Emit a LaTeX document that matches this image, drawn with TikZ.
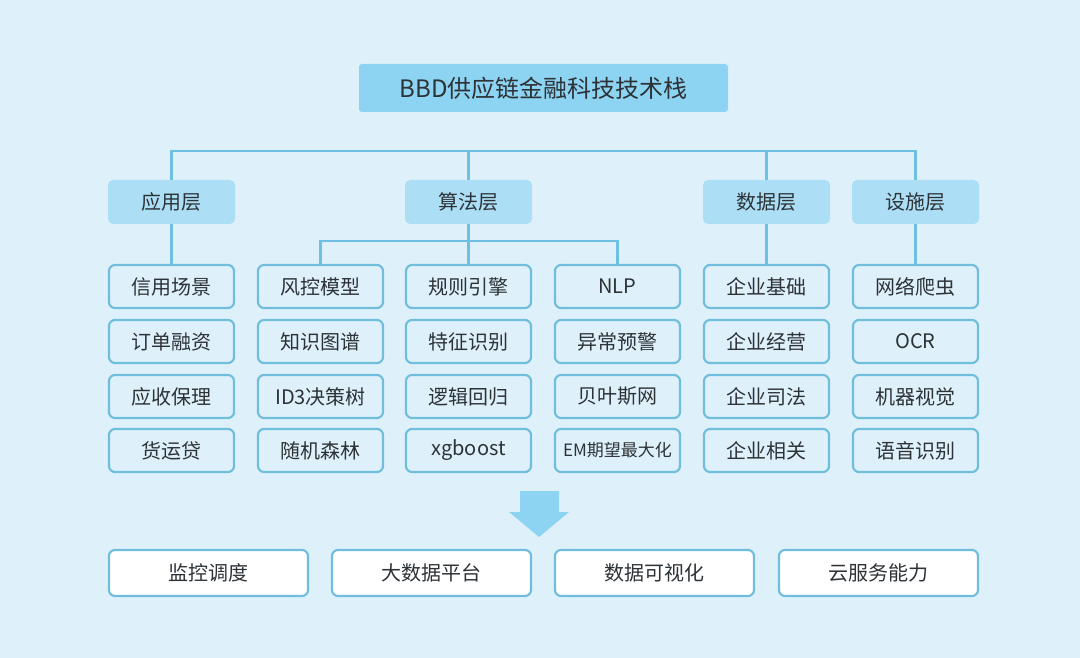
\documentclass[tikz,border=0pt]{standalone}
\usepackage{fontspec}
\setmainfont{Noto Sans CJK SC}
\definecolor{bg}{RGB}{222,241,251}
\definecolor{titlefill}{RGB}{141,212,242}
\definecolor{groupfill}{RGB}{172,223,245}
\definecolor{linec}{RGB}{110,192,226}
\definecolor{borderc}{RGB}{112,190,220}
\definecolor{txt}{RGB}{45,50,55}
\begin{document}
\begin{tikzpicture}[x=1pt,y=-1pt,
  titlebox/.style={fill=titlefill,rounded corners=3pt,minimum width=369pt,minimum height=48pt,inner sep=0pt,text=txt,font=\fontsize{24}{28}\selectfont},
  groupbox/.style={fill=groupfill,rounded corners=5pt,minimum width=127pt,minimum height=44pt,inner sep=0pt,text=txt,font=\fontsize{20}{24}\selectfont},
  leaf/.style={draw=borderc,line width=2.2pt,fill=bg,rounded corners=6pt,minimum width=125pt,minimum height=43pt,inner sep=0pt,text=txt,font=\fontsize{20}{24}\selectfont},
  leafsmall/.style={leaf,font=\fontsize{17}{20}\selectfont},
  bottombox/.style={draw=borderc,line width=2.2pt,fill=white,rounded corners=6pt,minimum width=199pt,minimum height=46pt,inner sep=0pt,text=txt,font=\fontsize{20}{24}\selectfont},
  conn/.style={draw=linec,line width=2.6pt}
]
\fill[bg] (0,0) rectangle (1080,658);
\useasboundingbox (0,0) rectangle (1080,658);

\node[titlebox] (title) at (543.5,88) {BBD供应链金融科技技术栈};

% group boxes
\node[groupbox] (g1) at (171.5,202) {应用层};
\node[groupbox] (g2) at (468.5,202) {算法层};
\node[groupbox] (g3) at (766.5,202) {数据层};
\node[groupbox] (g4) at (915.5,202) {设施层};

% leaf columns
\foreach \nm/\x in {a/171.5,b/320.5,c/468.5,d/617.5,e/766.5,f/915.5}{
  \foreach \r/\y in {1/286.5,2/341.5,3/396.5,4/450.5}{
    \coordinate (\nm\r pos) at (\x,\y);
  }
}
\node[leaf] (a1) at (a1pos) {信用场景};
\node[leaf] (a2) at (a2pos) {订单融资};
\node[leaf] (a3) at (a3pos) {应收保理};
\node[leaf] (a4) at (a4pos) {货运贷};

\node[leaf] (b1) at (b1pos) {风控模型};
\node[leaf] (b2) at (b2pos) {知识图谱};
\node[leaf] (b3) at (b3pos) {ID3决策树};
\node[leaf] (b4) at (b4pos) {随机森林};

\node[leaf] (c1) at (c1pos) {规则引擎};
\node[leaf] (c2) at (c2pos) {特征识别};
\node[leaf] (c3) at (c3pos) {逻辑回归};
\node[leaf] (c4) at (c4pos) {xgboost};

\node[leaf] (d1) at (d1pos) {NLP};
\node[leaf] (d2) at (d2pos) {异常预警};
\node[leaf] (d3) at (d3pos) {贝叶斯网};
\node[leafsmall] (d4) at (d4pos) {EM期望最大化};

\node[leaf] (e1) at (e1pos) {企业基础};
\node[leaf] (e2) at (e2pos) {企业经营};
\node[leaf] (e3) at (e3pos) {企业司法};
\node[leaf] (e4) at (e4pos) {企业相关};

\node[leaf] (f1) at (f1pos) {网络爬虫};
\node[leaf] (f2) at (f2pos) {OCR};
\node[leaf] (f3) at (f3pos) {机器视觉};
\node[leaf] (f4) at (f4pos) {语音识别};

% bottom boxes
\node[bottombox] (s1) at (208.5,573) {监控调度};
\node[bottombox] (s2) at (431.5,573) {大数据平台};
\node[bottombox] (s3) at (654.5,573) {数据可视化};
\node[bottombox] (s4) at (878.5,573) {云服务能力};

% top connectors
\coordinate (hy) at (0,151);
\draw[conn] (g1.north) -- (g1.north |- hy) -- (g4.north |- hy) -- (g4.north);
\draw[conn] (g2.north) -- (g2.north |- hy);
\draw[conn] (g3.north) -- (g3.north |- hy);

% group to leaves
\draw[conn] (g1.south) -- (a1.north);
\draw[conn] (g3.south) -- (e1.north);
\draw[conn] (g4.south) -- (f1.north);
\coordinate (sy) at (0,241);
\draw[conn] (g2.south) -- (c1.north);
\draw[conn] (b1.north) -- (b1.north |- sy) -- (d1.north |- sy) -- (d1.north);

% big arrow
\coordinate (arrowtip) at (539,537);
\fill[titlefill] (520,491) -- (559,491) -- (559,512) -- (569,512) -- (arrowtip) -- (509,512) -- (520,512) -- cycle;
\end{tikzpicture}
\end{document}
